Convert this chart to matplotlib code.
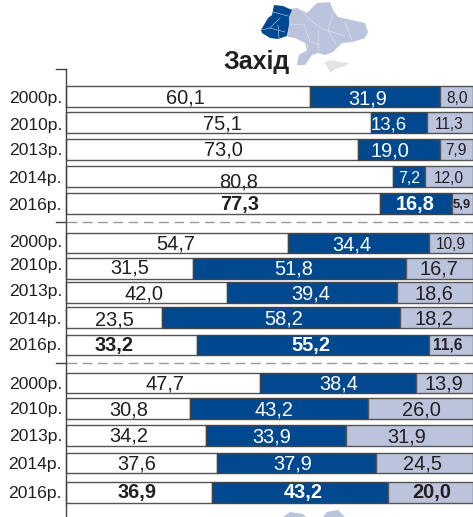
import matplotlib
matplotlib.use("Agg")
import matplotlib.pyplot as plt
from matplotlib.patches import Polygon
import numpy as np

years = ["2000р.", "2010р.", "2013р.", "2014р.", "2016р."] * 3
# numbers printed on the bars
part_a = [60.1, 75.1, 73.0, 80.8, 77.3, 54.7, 31.5, 42.0, 23.5, 33.2, 47.7, 30.8, 34.2, 37.6, 36.9]
part_b = [31.9, 13.6, 19.0, 7.2, 16.8, 34.4, 51.8, 39.4, 58.2, 55.2, 38.4, 43.2, 33.9, 37.9, 43.2]
part_c = [8.0, 11.3, 7.9, 12.0, 5.9, 10.9, 16.7, 18.6, 18.2, 11.6, 13.9, 26.0, 31.9, 24.5, 20.0]
# bar lengths as drawn in the picture, they differ a bit from the printed numbers
drawn_a = [60.0, 75.0, 71.8, 80.4, 77.1, 54.7, 31.3, 39.6, 23.8, 32.3, 47.8, 30.6, 34.6, 37.3, 36.0]
drawn_ab = [92.0, 88.7, 92.0, 88.2, 94.8, 89.1, 83.6, 81.3, 82.0, 89.1, 86.0, 74.2, 68.8, 76.2, 79.1]
title = "Захід"

# layout, all in pixels of the 473x517 picture
W, H = 473, 517
AXIS_X = 65.5
PX_PER_UNIT = (W - AXIS_X) / 100
row_top = [86, 112, 139, 166, 193, 233, 258, 282, 307, 335, 373, 398, 425, 453, 482]
row_bot = [107, 133, 160, 187, 214, 253, 279, 303, 328, 355, 393, 419, 446, 473, 503]
label_y = [97, 124, 149, 177, 204, 241, 264, 290, 318, 344, 383, 408, 435, 463, 492]
text_y = [97, 123, 149, 177, 203, 243, 267, 292, 317, 344, 382, 408, 435, 462, 491]
a_x = [185, 222, 223, 239, 240, 176, 130, 144, 114, 114, 165, 129, 129, 137, 137]
b_x = [368, 389, 390, 409, 415, 352, 294, 311, 284, 311, 339, 274, 272, 293, 303]
c_x = [457, 449, 456, 449, 462, 451, 439, 434, 434, 448, 444, 421, 407, 423, 432]
a_shift = {3: 3, 8: 1}
b_size = {1: 18.5, 3: 16}
separators = [222, 363]

plt.rcParams["font.family"] = ["Liberation Sans", "DejaVu Sans"]


def px(n):
    return n * 0.72


def x_val(p):
    return (p - AXIS_X) / PX_PER_UNIT


fig = plt.figure(figsize=(W / 100, H / 100), dpi=100)
ax = fig.add_axes([0, 0, 1, 1])
ax.set_xlim(x_val(0), x_val(W))
ax.set_ylim(H, 0)
ax.axis("off")

# map of Ukraine, rough outline only
west = [(274, 5), (283, 6), (292, 10), (289, 17), (289, 25), (287, 36), (278, 39), (270, 38),
        (262, 33), (261, 30), (268, 18), (272, 15)]
rest = [(290, 9), (297, 8), (307, 13), (313, 7), (317, 3), (330, 2), (333, 10), (338, 17), (347, 19),
        (365, 23), (368, 32), (365, 38), (353, 42), (342, 43), (338, 47), (333, 52), (325, 55),
        (318, 53), (312, 55), (305, 65), (297, 65), (299, 55), (307, 50), (305, 43), (295, 38),
        (288, 37), (289, 20)]
crimea = [(324, 63), (330, 60), (340, 62), (349, 63), (345, 66), (337, 68), (330, 73), (328, 68)]
bottom_map = [(283, 517), (290, 512), (303, 514), (306, 517)]
bottom_map2 = [(323, 517), (327, 512), (338, 510), (345, 517)]
west_borders = [[(273, 12), (288, 16)], [(280, 18), (270, 28), (262, 30)], [(270, 28), (285, 32)],
                [(278, 25), (279, 38)]]
rest_borders = [[(304, 14), (320, 28), (345, 36)], [(290, 24), (304, 25), (310, 42), (320, 45)],
                [(333, 14), (328, 30), (336, 44)], [(308, 44), (305, 54)], [(345, 22), (352, 40)],
                [(318, 30), (318, 50)]]


def shape(points, color):
    pts = [(x_val(a), b) for a, b in points]
    ax.add_patch(Polygon(pts, closed=True, facecolor=color, edgecolor="none", zorder=1))


def border(points, color):
    ax.plot([x_val(p[0]) for p in points], [p[1] for p in points], color=color, lw=0.4, zorder=1.5)


shape(rest, "#bcc4dd")
shape(west, "#004990")
shape(crimea, "#e3e3e3")
shape(bottom_map, "#bcc4dd")
shape(bottom_map2, "#bcc4dd")
for line in west_borders:
    border(line, "#c8d4e8")
for line in rest_borders:
    border(line, "#e4e7f0")

ax.text(x_val(257), 69, title, fontsize=px(25), fontweight="bold", color="#231f20",
        ha="center", va="baseline")

# axis line with its ticks
ax.plot([x_val(AXIS_X)] * 2, [69, H], color="#444444", lw=1, zorder=4, clip_on=False)
for y in [69] + separators:
    ax.plot([x_val(56), x_val(AXIS_X)], [y, y], color="#444444", lw=1, zorder=4)
for y in separators:
    ax.plot([x_val(67), x_val(W)], [y, y], color="#999999", lw=1, dashes=(7, 4), zorder=2)

top = np.array(row_top)
bot = np.array(row_bot)
centers = (top + bot) / 2
heights = bot - top
a = np.array(drawn_a)
ab = np.array(drawn_ab)
ax.barh(centers, a, height=heights, color="white", edgecolor="#555555", lw=1, zorder=3)
ax.barh(centers, ab - a, left=a, height=heights, color="#004990", edgecolor="#444444", lw=1, zorder=3)
ax.barh(centers, 100 - ab, left=ab, height=heights, color="#bcc4dd", edgecolor="#555555", lw=1, zorder=3)


def fmt(v):
    return f"{v:.1f}".replace(".", ",")


for i in range(len(years)):
    weight = "bold" if years[i].startswith("2016") else "normal"
    ax.text(x_val(62), label_y[i] + 6, years[i], fontsize=px(17.5), color="#231f20",
            ha="right", va="baseline")
    ax.text(x_val(a_x[i]), text_y[i] + 7 + a_shift.get(i, 0), fmt(part_a[i]), fontsize=px(20),
            fontweight=weight, color="#231f20", ha="center", va="baseline", zorder=5)
    bs = b_size.get(i, 20)
    ax.text(x_val(b_x[i]), text_y[i] + bs * 0.36, fmt(part_b[i]), fontsize=px(bs), fontweight=weight,
            color="white", ha="center", va="baseline", zorder=5)
    size = 20
    if part_c[i] < 12.5:
        size = 15.5
    if part_c[i] < 6:
        size = 13
    ax.text(x_val(c_x[i]), text_y[i] + size * 0.36, fmt(part_c[i]), fontsize=px(size),
            fontweight=weight, color="#231f20", ha="center", va="baseline", zorder=5)

fig.savefig("out.png", dpi=100)
